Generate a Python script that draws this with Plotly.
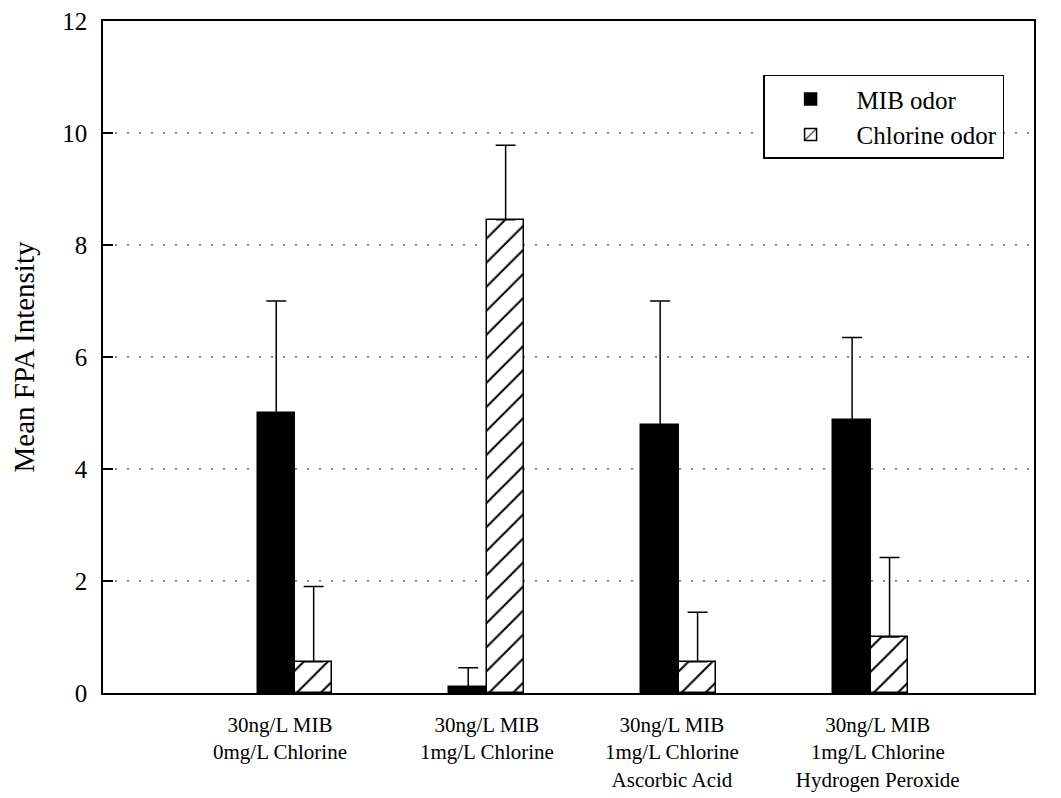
import plotly.graph_objects as go

# ---- data ----
group_pos = [1, 2, 3, 4]
label_pos = [0.922, 2.0, 2.964, 4.036]
category_labels = [
    "30ng/L MIB<br>0mg/L Chlorine",
    "30ng/L MIB<br>1mg/L Chlorine",
    "30ng/L MIB<br>1mg/L Chlorine<br>Ascorbic Acid",
    "30ng/L MIB<br>1mg/L Chlorine<br>Hydrogen Peroxide",
]
mib_mean = [5.0, 0.1, 4.78, 4.88]
mib_err = [2.0, 0.35, 2.22, 1.47]
chl_mean = [0.56, 8.45, 0.56, 1.0]
chl_err = [1.34, 1.33, 0.88, 1.42]
y_ticks = [0, 2, 4, 6, 8, 10, 12]

FONT = "'Liberation Serif', 'Times New Roman', 'DejaVu Serif', serif"
BW = 0.195

fig = go.Figure()
fig.add_trace(go.Bar(
    name="MIB odor", x=group_pos, y=mib_mean, width=BW, offset=-BW,
    marker=dict(color="black", line=dict(color="black", width=1.5)),
    error_y=dict(type="data", array=mib_err, arrayminus=[0] * len(mib_err), symmetric=False,
                 color="black", thickness=1.5, width=10),
))
fig.add_trace(go.Bar(
    name="Chlorine odor", x=group_pos, y=chl_mean, width=BW, offset=0,
    marker=dict(color="white", line=dict(color="black", width=1.5),
                pattern=dict(shape="/", size=17, solidity=0.12, fgcolor="black",
                             fgopacity=1, bgcolor="white")),
    error_y=dict(type="data", array=chl_err, arrayminus=[0] * len(chl_err), symmetric=False,
                 color="black", thickness=1.5, width=10),
))

fig.update_layout(
    width=1053, height=790,
    margin=dict(l=95, r=27, t=13, b=105, autoexpand=False),
    paper_bgcolor="white", plot_bgcolor="white",
    font=dict(family=FONT, color="black", size=22),
    showlegend=True,
    legend=dict(x=0.709, y=0.92, xanchor="left", yanchor="top",
                bordercolor="black", borderwidth=1.5, bgcolor="white",
                font=dict(family=FONT, size=25), itemwidth=82,
                traceorder="normal"),
    bargap=0,
)
fig.update_xaxes(
    range=[0, 4.85], tickvals=label_pos, ticktext=category_labels,
    showgrid=False, zeroline=False, ticks="", automargin=False,
    showline=True, linecolor="black", linewidth=1.5, mirror=True,
    tickfont=dict(family=FONT, size=21), ticklabelstandoff=12,
    ticklabeloverflow="allow",
)
fig.update_yaxes(
    range=[0, 12], tickvals=y_ticks, ticks="inside", ticklen=10, tickwidth=1.5, tickcolor="black",
    showgrid=True, gridcolor="#888888", gridwidth=1.5, griddash="2px,10px",
    zeroline=False, automargin=False,
    showline=True, linecolor="black", linewidth=1.5, mirror=True,
    tickfont=dict(family=FONT, size=25), ticklabelstandoff=9,
    ticklabeloverflow="allow",
    title=dict(text="Mean FPA Intensity", font=dict(family=FONT, size=29), standoff=22),
)

fig.write_html("out.html")
